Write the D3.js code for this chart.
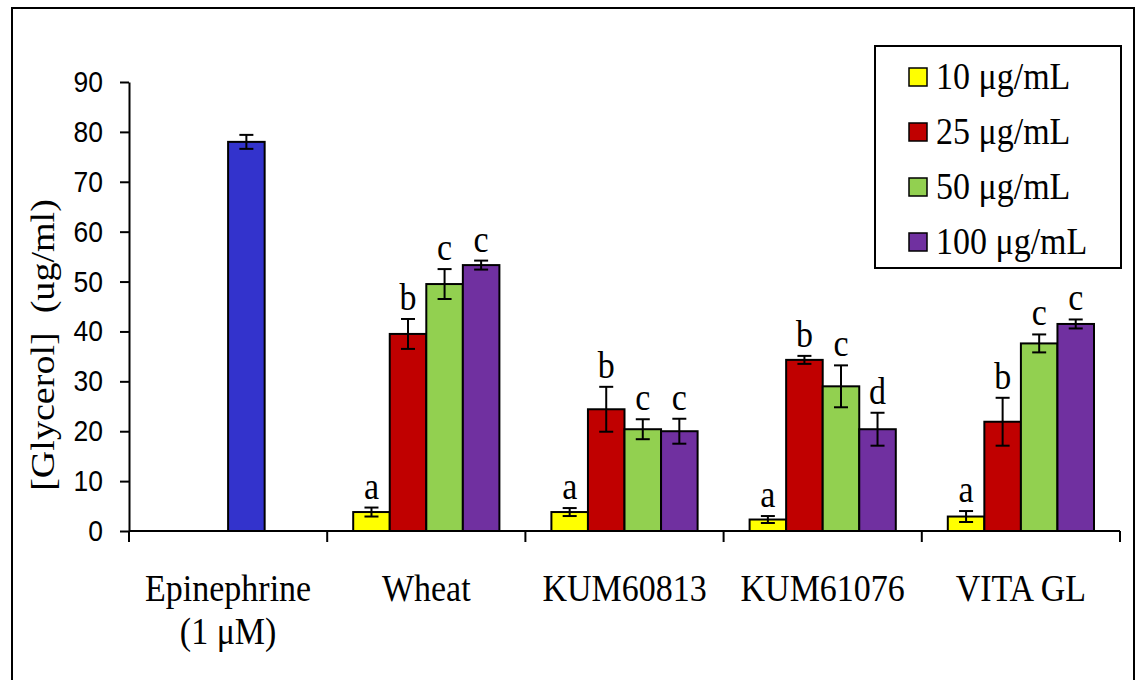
<!DOCTYPE html>
<html>
<head>
<meta charset="utf-8">
<script src="https://cdn.jsdelivr.net/npm/d3@7"></script>
<style>
  body { margin: 0; background: #fff; }
  svg { display: block; }
</style>
</head>
<body>
<div id="chart"></div>
<script>
// data
var categories = ["Epinephrine", "Wheat", "KUM60813", "KUM61076", "VITA GL"]
var series = ["10 μg/mL", "25 μg/mL", "50 μg/mL", "100 μg/mL"]
var colors = ["#ffff00", "#c00000", "#92d050", "#7030a0"]

var epiValue = 78.0
var epiErr = 1.4

// one row per extract, one value per concentration
var groups = ["Wheat", "KUM60813", "KUM61076", "VITA GL"]
var values = [
	[3.8, 39.5, 49.5, 53.3],
	[3.8, 24.4, 20.4, 20.0],
	[2.3, 34.3, 29.0, 20.4],
	[2.9, 21.9, 37.6, 41.5]
]
var errors = [
	[0.9, 3.0, 3.0, 0.9],
	[0.8, 4.5, 2.0, 2.5],
	[0.7, 0.8, 4.2, 3.3],
	[1.1, 4.8, 1.8, 0.9]
]
var letters = [
	["a", "b", "c", "c"],
	["a", "b", "c", "c"],
	["a", "b", "c", "d"],
	["a", "b", "c", "c"]
]
var yTicks = [0, 10, 20, 30, 40, 50, 60, 70, 80, 90]

const width = 1136
const height = 680
const stretch = 1.12   // text in the original is a bit taller than wide
const serif = "'Liberation Serif', 'Times New Roman', serif"

var svg = d3.select("#chart").append("svg")
	.attr("width", width)
	.attr("height", height)

// outer frame
svg.append("rect")
	.attr("x", 12).attr("y", 8)
	.attr("width", 1122).attr("height", 700)
	.attr("fill", "none").attr("stroke", "#000").attr("stroke-width", 2)

const x0 = d3.scaleBand().domain(categories).range([129, 1120])
const x1 = d3.scaleBand().domain(series).range([26, x0.bandwidth() - 26])
const y = d3.scaleLinear().domain([0, 90]).range([531, 82])

// y axis
var yAxis = svg.append("g")
	.attr("transform", "translate(129,0)")
	.call(d3.axisLeft(y).tickValues(yTicks).tickSizeInner(9).tickSizeOuter(0).tickPadding(17))
yAxis.select(".domain").attr("stroke-width", 2)
yAxis.selectAll(".tick line").attr("stroke-width", 2)
yAxis.selectAll("text")
	.style("font-family", "'Liberation Sans', Arial, sans-serif")
	.style("font-size", "26.5px")
	.attr("fill", "#000")
	.attr("transform", "scale(1," + stretch + ")")

// x axis line and separator ticks
svg.append("line")
	.attr("x1", 129).attr("x2", 1120)
	.attr("y1", y(0)).attr("y2", y(0))
	.attr("stroke", "#000").attr("stroke-width", 2)

var sepX = categories.map(c => x0(c)).concat([x0.range()[1]])
svg.selectAll(".sep").data(sepX).enter().append("line")
	.attr("x1", d => d).attr("x2", d => d)
	.attr("y1", y(0)).attr("y2", y(0) + 11)
	.attr("stroke", "#000").attr("stroke-width", 2)

function stretchedText(parent, tx, ty, str, size, anchor) {
	return parent.append("text")
		.attr("transform", "translate(" + tx + "," + ty + ") scale(1," + stretch + ")")
		.attr("text-anchor", anchor || "middle")
		.style("font-family", serif)
		.style("font-size", size + "px")
		.text(str)
}

// category labels
categories.forEach(function(c) {
	var cx = x0(c) + x0.bandwidth() / 2
	stretchedText(svg, cx, 601, c, 34)
})
stretchedText(svg, x0("Epinephrine") + x0.bandwidth() / 2, 644, "(1 μM)", 34)

// y title
svg.append("text")
	.attr("transform", "translate(54,345) rotate(-90) scale(" + stretch + ",1)")
	.attr("text-anchor", "middle")
	.style("font-family", serif)
	.style("font-size", "34px")
	.style("white-space", "pre")
	.text("[Glycerol]  (ug/ml)")

function errorBar(g, cx, v, e) {
	var top = y(v + e), bot = y(v - e)
	g.append("line").attr("x1", cx).attr("x2", cx).attr("y1", top).attr("y2", bot)
	g.append("line").attr("x1", cx - 7).attr("x2", cx + 7).attr("y1", top).attr("y2", top)
	g.append("line").attr("x1", cx - 7).attr("x2", cx + 7).attr("y1", bot).attr("y2", bot)
}

// epinephrine control bar, drawn in the third slot like the original
var epiG = svg.append("g").attr("transform", "translate(" + x0("Epinephrine") + ",0)")
epiG.append("rect")
	.attr("x", x1(series[2]))
	.attr("y", y(epiValue))
	.attr("width", x1.bandwidth())
	.attr("height", y(0) - y(epiValue))
	.attr("fill", "#3333cc").attr("stroke", "#000").attr("stroke-width", 2)
var epiErrG = epiG.append("g").attr("stroke", "#000").attr("stroke-width", 2)
errorBar(epiErrG, x1(series[2]) + x1.bandwidth() / 2, epiValue, epiErr)

// grouped bars
groups.forEach(function(gname, gi) {
	var g = svg.append("g").attr("transform", "translate(" + x0(gname) + ",0)")
	var rows = series.map((s, si) => ({ s: s, v: values[gi][si], e: errors[gi][si], l: letters[gi][si], c: colors[si] }))
	g.selectAll("rect").data(rows).enter().append("rect")
		.attr("x", d => x1(d.s))
		.attr("y", d => y(d.v))
		.attr("width", x1.bandwidth())
		.attr("height", d => y(0) - y(d.v))
		.attr("fill", d => d.c)
		.attr("stroke", "#000").attr("stroke-width", 2)
	var eg = g.append("g").attr("stroke", "#000").attr("stroke-width", 2)
	rows.forEach(function(d) {
		var cx = x1(d.s) + x1.bandwidth() / 2
		errorBar(eg, cx, d.v, d.e)
		stretchedText(g, cx, y(d.v + d.e) - 9, d.l, 34)
	})
})

// legend
var leg = svg.append("g")
leg.append("rect")
	.attr("x", 875).attr("y", 46).attr("width", 246).attr("height", 222)
	.attr("fill", "#fff").attr("stroke", "#000").attr("stroke-width", 2)
series.forEach(function(s, i) {
	var cy = 77 + i * 55
	leg.append("rect")
		.attr("x", 909).attr("y", cy - 9).attr("width", 18).attr("height", 18)
		.attr("fill", colors[i]).attr("stroke", "#000").attr("stroke-width", 1.5)
	stretchedText(leg, 936, cy + 11.5, s, 34, "start")
})
</script>
</body>
</html>
